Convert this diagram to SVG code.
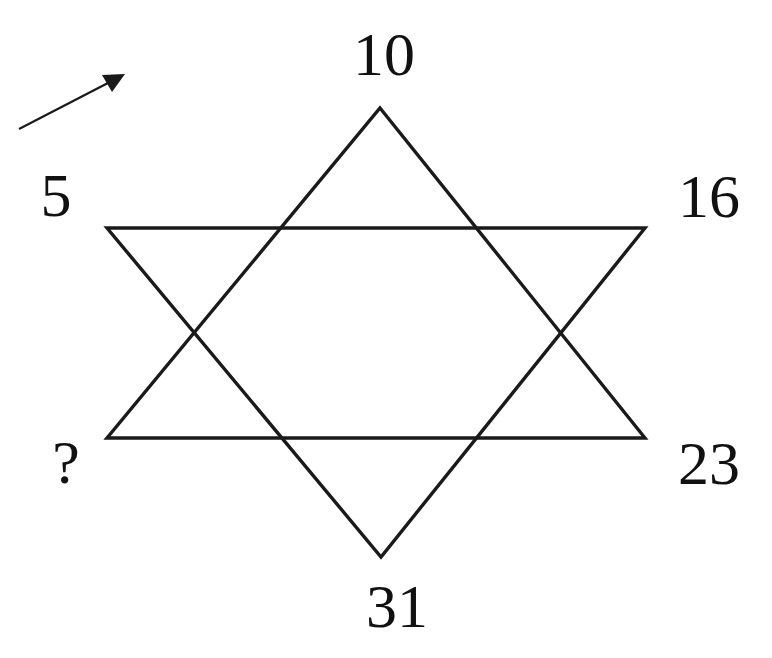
<svg xmlns="http://www.w3.org/2000/svg" width="772" height="658" viewBox="0 0 772 658">
<style>
.t{font-family:"Liberation Serif","DejaVu Serif",serif;font-size:62px;fill:#111;text-anchor:middle}
.l{fill:none;stroke:#1a1a1a;stroke-width:3.4;stroke-linejoin:miter}
</style>
<rect width="772" height="658" fill="#fff"/>
<g id="connectors">
<line x1="19" y1="129" x2="108" y2="83" stroke="#1a1a1a" stroke-width="2.2"/>
<polygon points="125,74 102,75 112,92" fill="#1a1a1a"/>
</g>
<g id="star">
<polygon class="l" points="380,108 645,438 107,438"/>
<polygon class="l" points="107,228 645,228 381,557"/>
</g>
<g id="n10"><text class="t" x="384" y="75">10</text></g>
<g id="n5"><text class="t" x="56" y="216">5</text></g>
<g id="n16"><text class="t" x="709" y="217">16</text></g>
<g id="nq"><text class="t" x="66" y="483">?</text></g>
<g id="n23"><text class="t" x="709" y="484">23</text></g>
<g id="n31"><text class="t" x="397" y="627">31</text></g>
</svg>
